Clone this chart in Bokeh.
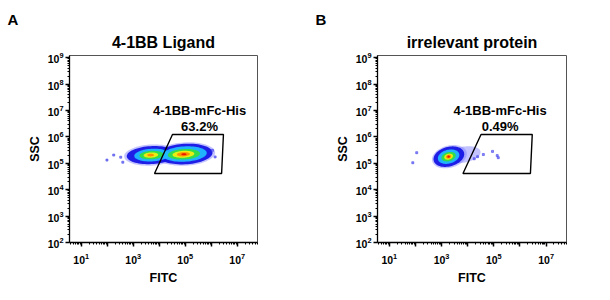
import numpy as np
from bokeh.plotting import figure
from bokeh.layouts import row
from bokeh.models import FixedTicker, Title, LogTickFormatter
from bokeh.core.properties import value
from bokeh.embed import file_html
from bokeh.resources import INLINE

# ---------------- data (log10 units) ----------------
panel_letters = ["A", "B"]
titles = ["4-1BB Ligand", "irrelevant protein"]
gate_name = "4-1BB-mFc-His"
gate_pcts = ["63.2%", "0.49%"]

# gate polygon (log10 FITC, log10 SSC)
gate_log_fitc = [3.82, 4.51, 6.47, 6.40]
gate_log_ssc = [4.61, 6.09, 6.09, 4.61]

# gate text anchor per panel (log10 FITC, log10 SSC of name line / pct line)
gate_text_log_fitc = [5.55, 5.24]
gate_name_log_ssc = 7.00
gate_pct_log_ssc = 6.39

x_major_log = [1, 2, 3, 4, 5, 6, 7]
x_labeled_log = [1, 3, 5, 7]
y_major_log = [2, 3, 4, 5, 6, 7, 8, 9]
x_range_log = (0.55, 7.78)
y_range_log = (2.0, 9.08)

density_levels = ["halo", "low", "midlow", "mid", "midhigh", "high", "peak"]
level_colors = ["#7a7aff", "#1515e6", "#22bbff", "#33dd44", "#f2ee10", "#ff8a00", "#e81200"]

# density contours: (level, centre log FITC, centre log SSC, half-spread FITC, half-spread SSC, tilt deg)
cloud_a = [
    ("halo", 3.70, 5.31, 1.05, 0.40, 3), ("halo", 5.00, 5.35, 1.15, 0.44, 3),
    ("low", 3.70, 5.31, 0.95, 0.34, 3), ("low", 5.00, 5.35, 1.05, 0.39, 3),
    ("midlow", 3.72, 5.31, 0.68, 0.24, 3), ("midlow", 4.98, 5.35, 0.85, 0.29, 3),
    ("mid", 3.70, 5.31, 0.46, 0.16, 3), ("mid", 4.95, 5.34, 0.62, 0.20, 3),
    ("midhigh", 3.68, 5.31, 0.28, 0.10, 3), ("midhigh", 4.93, 5.34, 0.42, 0.13, 3),
    ("high", 3.67, 5.31, 0.13, 0.05, 0), ("high", 4.93, 5.34, 0.25, 0.08, 3),
    ("peak", 4.95, 5.34, 0.10, 0.04, 0),
]
cloud_b = [
    ("halo", 3.85, 5.33, 0.65, 0.30, 10),
    ("halo", 3.30, 5.25, 0.68, 0.42, 15), ("low", 3.28, 5.25, 0.60, 0.37, 15),
    ("midlow", 3.27, 5.25, 0.42, 0.26, 15), ("mid", 3.27, 5.25, 0.28, 0.17, 15),
    ("midhigh", 3.27, 5.25, 0.17, 0.11, 15), ("high", 3.27, 5.25, 0.10, 0.07, 15),
    ("peak", 3.27, 5.25, 0.05, 0.04, 0),
]
clouds = [cloud_a, cloud_b]

# stray events (log FITC, log SSC)
stray_a_fitc = [1.99, 2.25, 2.52, 2.60, 6.05, 6.15]
stray_a_ssc = [5.12, 5.31, 5.23, 5.04, 5.49, 5.24]
stray_b_fitc = [1.90, 2.05, 4.38, 4.60, 5.13, 5.17, 4.25, 4.95]
stray_b_ssc = [5.02, 5.40, 5.25, 5.33, 5.29, 5.21, 5.17, 5.45]
strays = [(stray_a_fitc, stray_a_ssc), (stray_b_fitc, stray_b_ssc)]

# ---------------- drawing ----------------
FONT = "Liberation Sans"
t = np.linspace(0, 2 * np.pi, 72)


def outline(cx, cy, hx, hy, ang):
    a = np.radians(ang)
    dx, dy = hx * np.cos(t), hy * np.sin(t)
    lx = cx + dx * np.cos(a) - dy * np.sin(a)
    ly = cy + dx * np.sin(a) + dy * np.cos(a)
    return list(10 ** lx), list(10 ** ly)


def minor_list(lo, hi):
    out = []
    for k in range(int(np.floor(lo)) - 1, int(np.ceil(hi)) + 1):
        for m in range(2, 10):
            v = k + np.log10(m)
            if lo <= v <= hi:
                out.append(10.0 ** v)
    return out


def make_panel(i, width, left, right):
    p = figure(width=width, height=300, x_axis_type="log", y_axis_type="log",
               x_range=(10 ** x_range_log[0], 10 ** x_range_log[1]),
               y_range=(10 ** y_range_log[0], 10 ** y_range_log[1]),
               output_backend="svg", toolbar_location=None,
               min_border_left=left, min_border_right=right,
               min_border_top=55, min_border_bottom=58)
    p.grid.visible = False
    p.outline_line_color = "#555555"
    p.outline_line_width = 1
    p.background_fill_color = "white"
    p.border_fill_color = "white"

    # panel letter (outermost row, shifted to the left edge)
    p.title.text = panel_letters[i]
    p.title.align = "left"
    p.title.offset = 7 - left
    p.title.text_font = FONT
    p.title.text_font_style = "bold"
    p.title.text_font_size = "15px"
    p.title.text_color = "black"
    p.title.standoff = 0

    # panel title (row next to the frame)
    p.add_layout(Title(text=titles[i], align="center",
                       text_font=FONT, text_font_style="bold", text_font_size="16px",
                       text_color="black", standoff=9), "above")

    xt = FixedTicker(ticks=[10.0 ** k for k in x_major_log],
                     minor_ticks=minor_list(*x_range_log))
    yt = FixedTicker(ticks=[10.0 ** k for k in y_major_log],
                     minor_ticks=minor_list(*y_range_log))
    p.xaxis.ticker = xt
    p.yaxis.ticker = yt
    p.xaxis.formatter = LogTickFormatter()
    p.yaxis.formatter = LogTickFormatter()
    p.xaxis.major_label_overrides = {10.0 ** k: "" for k in x_major_log if k not in x_labeled_log}

    for ax in (p.xaxis[0], p.yaxis[0]):
        ax.axis_line_color = "black"
        ax.axis_line_width = 1.3
        ax.major_tick_in = 0
        ax.major_tick_out = 4
        ax.minor_tick_in = 0
        ax.minor_tick_out = 2
        ax.major_tick_line_width = 1.5
        ax.minor_tick_line_width = 1
        ax.major_tick_line_color = "black"
        ax.minor_tick_line_color = "black"
        ax.major_label_text_font = FONT
        ax.major_label_text_font_style = "bold"
        ax.major_label_text_font_size = "10.5px"
        ax.major_label_text_color = "black"
        ax.axis_label_text_font = FONT
        ax.axis_label_text_font_style = "bold"
        ax.axis_label_text_font_size = "12.5px"
        ax.axis_label_text_color = "black"
    p.xaxis.axis_label = "FITC"
    p.yaxis.axis_label = "SSC"
    p.xaxis.major_label_standoff = 6
    p.yaxis.major_label_standoff = 2
    p.xaxis.axis_label_standoff = 4
    p.yaxis.axis_label_standoff = 3

    # density cloud
    cl = clouds[i]
    xs, ys, cols = [], [], []
    for lev, cx, cy, hx, hy, ang in cl:
        ox, oy = outline(cx, cy, hx, hy, ang)
        xs.append(ox)
        ys.append(oy)
        cols.append(level_colors[density_levels.index(lev)])
    alphas = [0.45 if c == level_colors[0] else 0.95 for c in cols]
    p.patches(xs, ys, fill_color=cols, fill_alpha=alphas, line_color=None)

    sx, sy = strays[i]
    p.scatter([10 ** v for v in sx], [10 ** v for v in sy], size=2,
              color="#4444ee", alpha=0.6, marker="square")

    # gate
    p.patch([10 ** v for v in gate_log_fitc], [10 ** v for v in gate_log_ssc],
            fill_alpha=0, line_color="black", line_width=1.4)
    tx = 10 ** gate_text_log_fitc[i]
    p.text([tx, tx], [10 ** gate_name_log_ssc, 10 ** gate_pct_log_ssc],
           text=[gate_name, gate_pcts[i]], text_align="center",
           text_baseline="middle", text_font=value(FONT),
           text_font_style="bold", text_font_size="13px", text_color="black")
    return p


pa = make_panel(0, 308, 69, 51)
pb = make_panel(1, 302, 69, 44)
lay = row(pa, pb)

open("out.html", "w").write(file_html(lay, INLINE))
